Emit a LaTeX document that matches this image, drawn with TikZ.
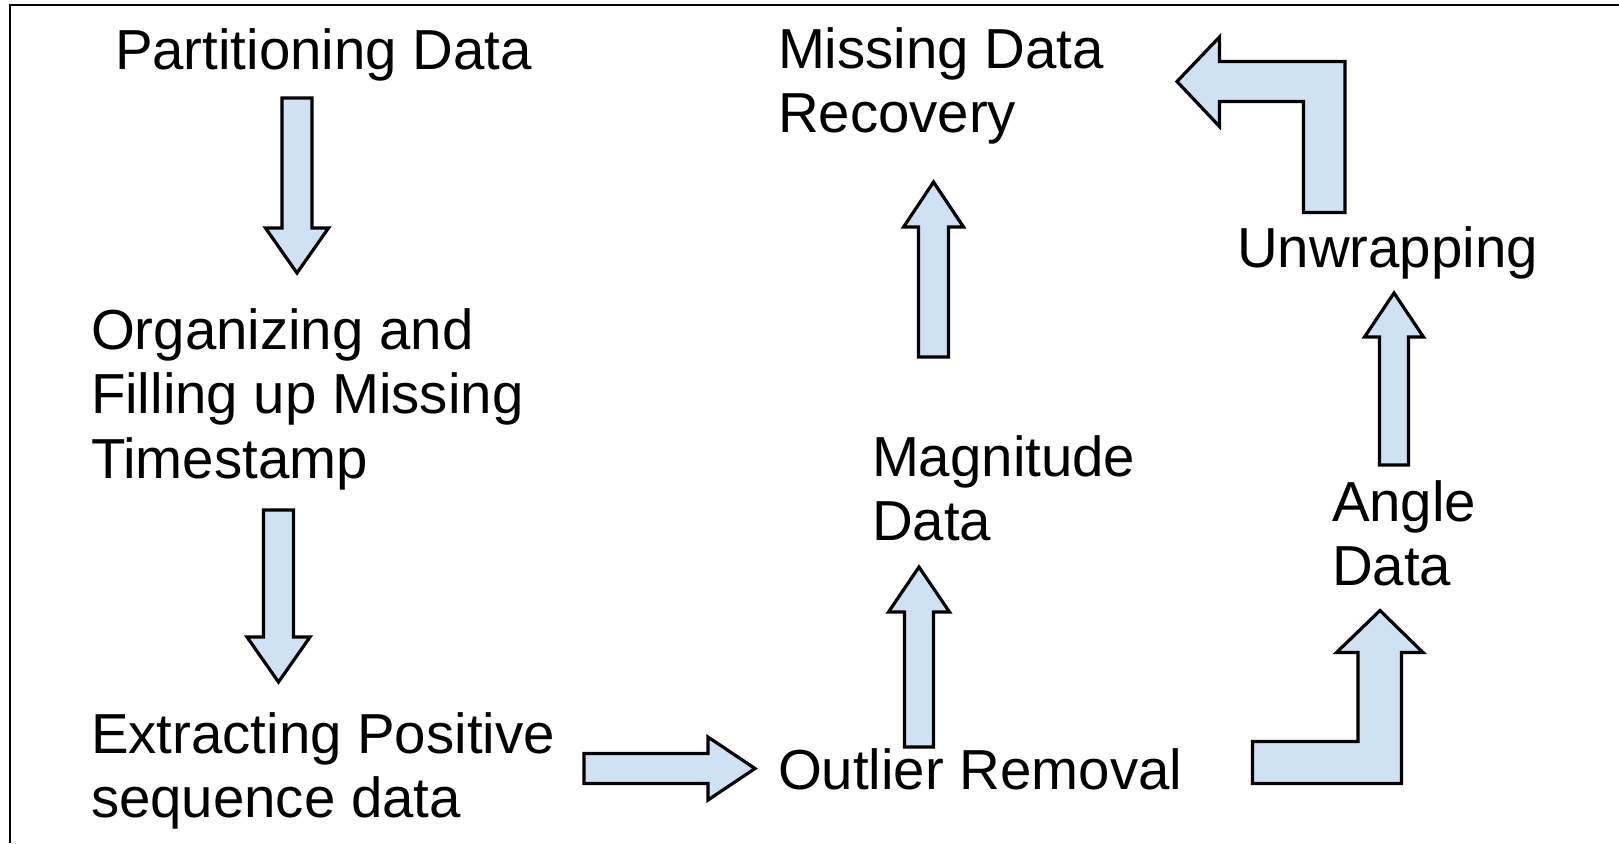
\documentclass[tikz,border=0pt]{standalone}
\usepackage{fontspec}
\setmainfont{Liberation Sans}
\begin{document}
\begin{tikzpicture}[x=0.5pt,y=-0.5pt,
  blockarrow/.style={draw=black, line width=1.6pt, fill=arrowfill, line join=miter},
  label/.style={anchor=base west, inner sep=0pt, outer sep=0pt,
    font=\fontsize{28.2pt}{32.3pt}\selectfont},
  frame/.style={draw=black, line width=1.2pt}]
\definecolor{arrowfill}{HTML}{CFE2F3}
\useasboundingbox (0,0) rectangle (1619,843);
\fill[white] (0,0) rectangle (1619,843);

% frame (only top and left edges fall inside the page)
\draw[frame] (10,843) -- (10,5) -- (1619,5);

% step labels
\node[label] (part) at (115,69) {Partitioning Data};
\node[label] (org) at (91,349) {\begin{tabular}[t]{@{}l@{}}Organizing and\\Filling up Missing\\Timestamp\end{tabular}};
\node[label] (ext) at (91,753) {\begin{tabular}[t]{@{}l@{}}Extracting Positive\\sequence data\end{tabular}};
\node[label] (outl) at (778,789) {Outlier Removal};
\node[label] (mag) at (872,476) {\begin{tabular}[t]{@{}l@{}}Magnitude\\Data\end{tabular}};
\node[label] (ang) at (1332,521) {\begin{tabular}[t]{@{}l@{}}Angle\\Data\end{tabular}};
\node[label] (unw) at (1237,267) {Unwrapping};
\node[label] (rec) at (778,68) {\begin{tabular}[t]{@{}l@{}}Missing Data\\Recovery\end{tabular}};

% block arrows
% partitioning -> organizing
\draw[blockarrow] (282,98) -- (312,98) -- (312,228) -- (328.5,228) -- (297,273)
  -- (265.5,228) -- (282,228) -- cycle;
% organizing -> extracting
\draw[blockarrow] (263.5,510) -- (293.5,510) -- (293.5,637) -- (310,637) -- (278.5,682)
  -- (247,637) -- (263.5,637) -- cycle;
% extracting -> outlier removal
\draw[blockarrow] (584,753.5) -- (708,753.5) -- (708,737) -- (755,768.5) -- (708,800)
  -- (708,783.5) -- (584,783.5) -- cycle;
% outlier removal -> magnitude
\draw[blockarrow] (904.5,747) -- (904.5,612) -- (888.5,612) -- (919,567) -- (949.5,612)
  -- (933.5,612) -- (933.5,747) -- cycle;
% magnitude -> recovery
\draw[blockarrow] (918.5,357) -- (918.5,227) -- (903.5,227) -- (933.5,182) -- (963.5,227)
  -- (948.5,227) -- (948.5,357) -- cycle;
% outlier removal -> angle (bent)
\draw[blockarrow] (1252.5,741.5) -- (1358,741.5) -- (1358,652.5) -- (1336.5,652.5)
  -- (1380,610.5) -- (1423,652.5) -- (1401.5,652.5) -- (1401.5,783.5)
  -- (1252.5,783.5) -- cycle;
% angle -> unwrapping
\draw[blockarrow] (1379.5,465) -- (1379.5,337) -- (1364.5,337) -- (1394,293) -- (1423.5,337)
  -- (1408.5,337) -- (1408.5,465) -- cycle;
% unwrapping -> recovery (bent)
\draw[blockarrow] (1303.5,212.5) -- (1303.5,101.5) -- (1219.5,101.5) -- (1219.5,126.5)
  -- (1177,81.5) -- (1219.5,37) -- (1219.5,61.5) -- (1345,61.5) -- (1345,212.5) -- cycle;
\end{tikzpicture}
\end{document}
